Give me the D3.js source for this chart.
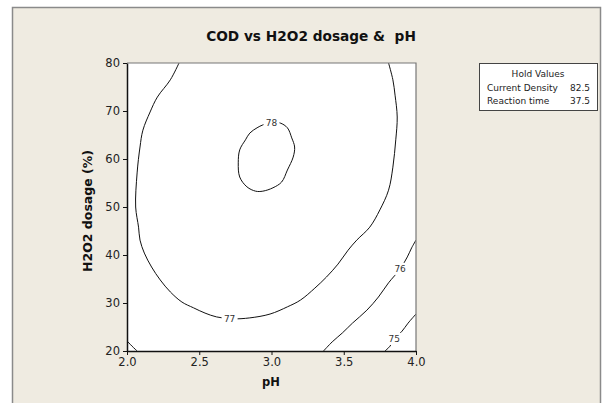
<!DOCTYPE html>
<html>
<head>
<meta charset="utf-8">
<script src="https://cdn.jsdelivr.net/npm/d3@7/dist/d3.min.js"></script>
<style>
  html, body { margin: 0; padding: 0; background: #ffffff; }
  svg { display: block; }
  text { font-family: "DejaVu Sans", sans-serif; white-space: pre; }
</style>
</head>
<body>
<svg id="chart" width="611" height="403"></svg>
<script>
// ---- data ----
const title = "COD vs H2O2 dosage &  pH";
const xLabel = "pH";
const yLabel = "H2O2 dosage (%)";
const xTicks = [2.0, 2.5, 3.0, 3.5, 4.0];
const yTicks = [20, 30, 40, 50, 60, 70, 80];
const xDomain = [2, 4];
const yDomain = [20, 80];

const holdTitle = "Hold Values";
const holdNames = ["Current Density", "Reaction time"];
const holdValues = ["82.5", "37.5"];

// contour lines: [pH, H2O2 dosage] pairs
const contour78 = [[3.00,67.7],[3.06,67.5],[3.11,66.5],[3.14,64.4],[3.16,62.5],[3.15,60.4],[3.11,57.7],[3.07,55.2],[3.01,54.0],[2.94,53.3],[2.89,53.3],[2.83,54.2],[2.78,56.25],[2.77,59.2],[2.78,61.9],[2.82,64.0],[2.85,65.4],[2.90,66.5],[2.94,67.1],[3.00,67.7]];
const contour77 = [[2.36,80],[2.30,76.5],[2.21,72.9],[2.16,69.8],[2.11,66.0],[2.09,62.5],[2.07,57.1],[2.06,50.0],[2.08,45.8],[2.09,43.1],[2.12,40.4],[2.17,37.5],[2.23,34.8],[2.30,32.3],[2.38,30.2],[2.46,29.0],[2.54,27.9],[2.62,27.1],[2.73,26.7],[2.85,26.9],[2.99,27.7],[3.11,29.2],[3.20,30.6],[3.30,33.1],[3.38,35.4],[3.46,38.1],[3.53,41.0],[3.59,43.1],[3.68,45.8],[3.75,49.4],[3.81,53.5],[3.84,58.3],[3.86,64.0],[3.87,68.75],[3.855,73.3],[3.84,76.5],[3.81,80]];
const contour76 = [[3.36,20],[3.42,21.9],[3.49,23.75],[3.56,25.8],[3.66,28.5],[3.74,31.25],[3.81,34.2],[3.89,37.1],[3.94,39.6],[3.97,41.5],[4.0,43.1]];
const contour76corner = [[2.0,22.1],[2.035,21.0],[2.07,20]];
const contour75 = [[3.785,20],[3.82,21.0],[3.85,22.5],[3.90,24.0],[3.945,25.8],[4.0,27.7]];
const contours = [contour78, contour77, contour76, contour76corner, contour75];
const contourLabels = [
  {text: "78", at: [3.00, 67.6]},
  {text: "77", at: [2.71, 26.7]},
  {text: "76", at: [3.89, 37.1]},
  {text: "75", at: [3.85, 22.5]}
];

// ---- drawing ----
const svg = d3.select("#chart");
const plot = {left: 127, right: 416, top: 63, bottom: 351};

// outer frame
svg.append("rect").attr("x", 12.5).attr("y", 7.5).attr("width", 588).attr("height", 402)
  .attr("fill", "#efebe1").attr("stroke", "#8a8a8a").attr("stroke-width", 1.5);

const x = d3.scaleLinear().domain(xDomain).range([plot.left, plot.right]);
const y = d3.scaleLinear().domain(yDomain).range([plot.bottom, plot.top]);

// plot area
svg.append("rect").attr("x", plot.left).attr("y", plot.top)
  .attr("width", plot.right - plot.left).attr("height", plot.bottom - plot.top)
  .attr("fill", "#ffffff");

svg.append("clipPath").attr("id", "clip").append("rect")
  .attr("x", plot.left).attr("y", plot.top)
  .attr("width", plot.right - plot.left).attr("height", plot.bottom - plot.top);

const line = d3.line().x(d => x(d[0])).y(d => y(d[1])).curve(d3.curveCatmullRom.alpha(0.5));
const g = svg.append("g").attr("clip-path", "url(#clip)");
g.selectAll("path.c").data(contours).join("path").attr("class", "c")
  .attr("d", line).attr("fill", "none").attr("stroke", "#111").attr("stroke-width", 1);

// contour labels with gaps
const lbl = g.selectAll("g.lbl").data(contourLabels).join("g").attr("class", "lbl")
  .attr("transform", d => `translate(${x(d.at[0])},${y(d.at[1])})`);
lbl.append("rect").attr("x", -8).attr("y", -6).attr("width", 16).attr("height", 12).attr("fill", "#fff");
lbl.append("text").attr("text-anchor", "middle").attr("dy", "0.36em")
  .attr("font-size", "9px").attr("fill", "#333").text(d => d.text);

// top & right border (gray)
svg.append("path")
  .attr("d", `M${plot.left},${plot.top}H${plot.right}V${plot.bottom}`)
  .attr("fill", "none").attr("stroke", "#777").attr("stroke-width", 1.2);

// axes
const xAxis = d3.axisBottom(x).tickValues(xTicks).tickFormat(d3.format(".1f")).tickSize(4).tickSizeOuter(0);
const yAxis = d3.axisLeft(y).tickValues(yTicks).tickFormat(d3.format("d")).tickSize(4).tickSizeOuter(0);
const gx = svg.append("g").attr("transform", `translate(0,${plot.bottom})`).call(xAxis);
const gy = svg.append("g").attr("transform", `translate(${plot.left},0)`).call(yAxis);
[gx, gy].forEach(a => {
  a.select(".domain").attr("stroke", "#111").attr("stroke-width", 1.5);
  a.selectAll(".tick line").attr("stroke", "#111");
  a.selectAll(".tick text").attr("font-family", "DejaVu Sans").attr("font-size", "11.5px").attr("fill", "#222");
});

// titles
svg.append("text").attr("x", 311).attr("y", 41).attr("text-anchor", "middle")
  .attr("font-size", "13.7px").attr("font-weight", "bold").attr("fill", "#111").text(title);
svg.append("text").attr("x", 271).attr("y", 386).attr("text-anchor", "middle")
  .attr("font-size", "11.5px").attr("font-weight", "bold").attr("fill", "#111").text(xLabel);
svg.append("text").attr("transform", "translate(92,211) rotate(-90)").attr("text-anchor", "middle")
  .attr("font-size", "12.5px").attr("font-weight", "bold").attr("fill", "#111").text(yLabel);

// hold values box
const box = svg.append("g");
box.append("rect").attr("x", 479.5).attr("y", 63.5).attr("width", 118).attr("height", 47)
  .attr("fill", "#fff").attr("stroke", "#444").attr("stroke-width", 1);
box.append("text").attr("x", 538).attr("y", 77).attr("text-anchor", "middle")
  .attr("font-size", "9px").attr("fill", "#222").text(holdTitle);
holdNames.forEach((n, i) => {
  box.append("text").attr("x", 487).attr("y", 91 + i * 13).attr("font-size", "9px").attr("fill", "#222").text(n);
  box.append("text").attr("x", 590).attr("y", 91 + i * 13).attr("text-anchor", "end")
    .attr("font-size", "9px").attr("fill", "#222").text(holdValues[i]);
});
</script>
</body>
</html>
